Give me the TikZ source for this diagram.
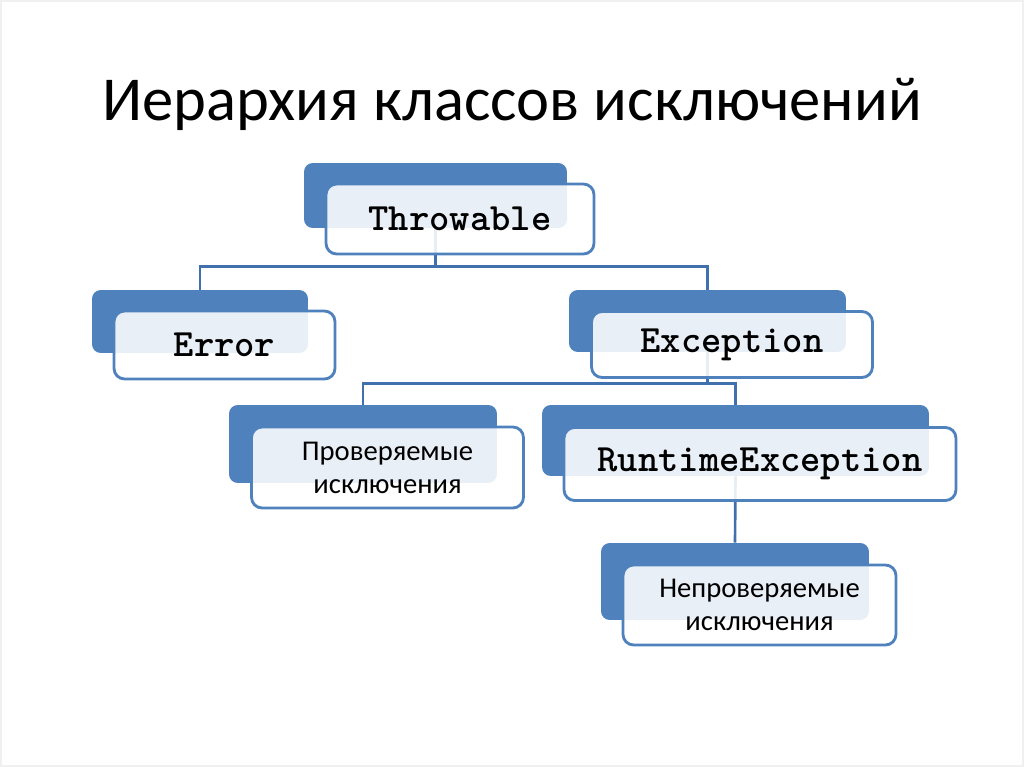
\documentclass[tikz,border=0pt]{standalone}
\usepackage{fontspec}
\setmainfont{Carlito}
\usetikzlibrary{positioning}
\definecolor{boxblue}{HTML}{4F81BD}
\definecolor{linkblue}{HTML}{4170AE}
\tikzstyle{back} = [rectangle, rounded corners=5pt, fill=boxblue]
\tikzstyle{front} = [rectangle, rounded corners=6pt, draw=boxblue, line width=1.6pt, fill=white, fill opacity=0.88, text opacity=1, xshift=0.49cm, yshift=-0.47cm, align=center, font=\fontsize{16.3}{18.8}\selectfont]
\tikzstyle{code} = [font=\ttfamily\bfseries\fontsize{22}{24}\selectfont]
\tikzstyle{link} = [draw=linkblue, line width=1.5pt]

\begin{document}
\begin{tikzpicture}[x=0.02cm, y=-0.02cm]

    \useasboundingbox (0,0) rectangle (1024,767);
    \draw [gray!12, line width=0.6pt] (1,1) rectangle (1023,766);

    % Title
    \node (title) at (512,104) {\fontsize{35.6}{40}\selectfont Иерархия классов исключений};

    % Back boxes
    \node (throwableback) [back, minimum width=5.26cm, minimum height=1.30cm] at (435.5,195.5) {};
    \node (errorback) [back, minimum width=4.32cm, minimum height=1.26cm] at (200,321.5) {};
    \node (exceptionback) [back, minimum width=5.54cm, minimum height=1.24cm] at (707.5,321) {};
    \node (checkedback) [back, minimum width=5.36cm, minimum height=1.56cm] at (363,444) {};
    \node (runtimeback) [back, minimum width=7.74cm, minimum height=1.42cm] at (735.5,440.5) {};
    \node (uncheckedback) [back, minimum width=5.36cm, minimum height=1.54cm] at (735,581.5) {};

    % Links
    \draw [link] (throwableback.south) -- ++(0,38) coordinate (tsplit) -| (errorback.north);
    \draw [link] (tsplit) -| (exceptionback.north);
    \draw [link] (exceptionback.south) -- ++(0,31) coordinate (esplit) -| (checkedback.north);
    \draw [link] (esplit) -| (runtimeback.north);
    \draw [link] (runtimeback.south) -- (uncheckedback.north);

    % Front boxes
    \node (throwable) [front, code, minimum width=5.36cm, minimum height=1.40cm] at (throwableback) {Throwable};
    \node (error) [front, code, minimum width=4.42cm, minimum height=1.36cm] at (errorback) {Error};
    \node (exception) [front, code, minimum width=5.62cm, minimum height=1.32cm] at (exceptionback) {Exception};
    \node (checked) [front, minimum width=5.44cm, minimum height=1.62cm] at (checkedback) {Проверяемые\\исключения};
    \node (runtime) [front, code, minimum width=7.84cm, minimum height=1.46cm] at (runtimeback) {RuntimeException};
    \node (unchecked) [front, minimum width=5.46cm, minimum height=1.60cm] at (uncheckedback) {Непроверяемые\\исключения};

\end{tikzpicture}
\end{document}
